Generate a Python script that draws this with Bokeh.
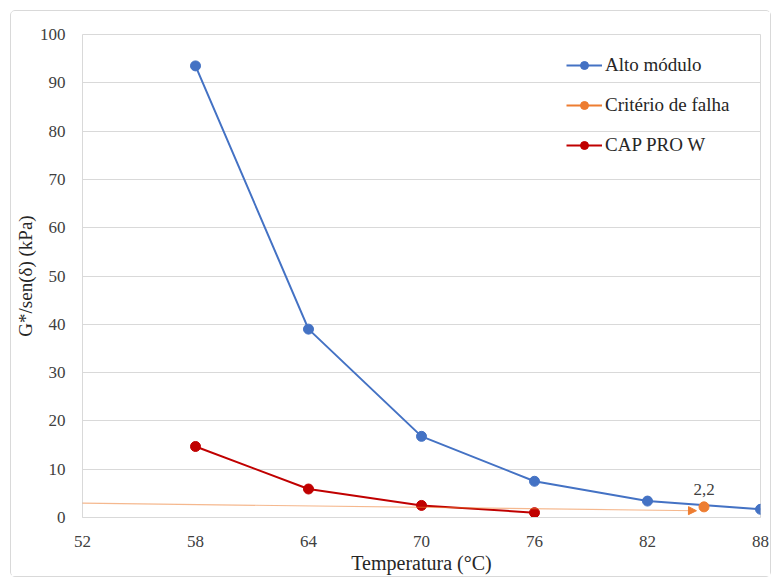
from bokeh.plotting import figure
from bokeh.layouts import column
from bokeh.models import FixedTicker, Legend, LegendItem, Arrow, NormalHead, Label
from bokeh.embed import file_html
from bokeh.resources import INLINE

temps = [58, 64, 70, 76, 82, 88]
alto_modulo = [93.5, 39.0, 16.8, 7.5, 3.4, 1.7]
cap_temps = [58, 64, 70, 76]
cap_pro_w = [14.7, 5.9, 2.5, 1.0]
criterio_x = [51.5, 84.6]
criterio_y = [3.0, 1.4]
criterio_pt_x = [85.0]
criterio_pt_y = [2.2]
criterio_label = "2,2"
x_ticks = [52, 58, 64, 70, 76, 82, 88]
y_ticks = [0, 10, 20, 30, 40, 50, 60, 70, 80, 90, 100]

BLUE = "#4472C4"
ORANGE = "#ED7D31"
RED = "#C00000"
FONT = "Liberation Serif"

p = figure(width=759, height=565, output_backend="svg", toolbar_location=None,
           x_range=(52, 88), y_range=(0, 100),
           min_border_left=71, min_border_right=10, min_border_top=23, min_border_bottom=59)

p.background_fill_color = "white"
p.border_fill_color = "white"
p.outline_line_color = "#d9d9d9"
p.xgrid.grid_line_color = None
p.ygrid.grid_line_color = "#d9d9d9"
p.ygrid.grid_line_width = 1

p.xaxis.ticker = FixedTicker(ticks=x_ticks)
p.yaxis.ticker = FixedTicker(ticks=y_ticks)
for ax in (p.xaxis[0], p.yaxis[0]):
    ax.major_tick_line_color = None
    ax.minor_tick_line_color = None
    ax.major_label_text_font = FONT
    ax.major_label_text_font_size = "17px"
    ax.major_label_text_color = "#404040"
    ax.axis_label_text_font = FONT
    ax.axis_label_text_font_size = "19px"
    ax.axis_label_text_font_style = "normal"
    ax.axis_label_text_color = "#262626"
p.xaxis.axis_label_text_font_size = "20px"
p.xaxis.axis_line_color = "#d9d9d9"
p.yaxis.axis_line_color = None
p.xaxis.axis_label = "Temperatura (°C)"
p.yaxis.axis_label = "G*/sen(δ) (kPa)"
p.xaxis.major_label_standoff = 12
p.xaxis.axis_label_standoff = 2
p.yaxis.major_label_standoff = 11
p.yaxis.axis_label_standoff = 1

# failure criterion line with arrow
p.add_layout(Arrow(x_start=criterio_x[0], y_start=criterio_y[0],
                   x_end=criterio_x[1], y_end=criterio_y[1],
                   line_color=ORANGE, line_alpha=0.55, line_width=1.2,
                   end=NormalHead(size=8, fill_color=ORANGE, line_color=ORANGE)))

l1 = p.line(temps, alto_modulo, line_color=BLUE, line_width=2)
c1 = p.scatter(temps, alto_modulo, size=10, fill_color=BLUE, line_color=BLUE)
l2 = p.line(criterio_pt_x, criterio_pt_y, line_color=ORANGE, line_width=2)
c2 = p.scatter(criterio_pt_x, criterio_pt_y, size=10, fill_color=ORANGE, line_color=ORANGE)
l3 = p.line(cap_temps, cap_pro_w, line_color=RED, line_width=2)
c3 = p.scatter(cap_temps, cap_pro_w, size=10, fill_color=RED, line_color=RED)

p.add_layout(Label(x=criterio_pt_x[0], y=criterio_pt_y[0], text=criterio_label,
                   x_offset=0, y_offset=12, text_align="center", text_baseline="bottom",
                   text_font=FONT, text_font_size="17px", text_color="#404040"))

legend = Legend(items=[LegendItem(label="Alto módulo", renderers=[l1, c1]),
                       LegendItem(label="Critério de falha", renderers=[l2, c2]),
                       LegendItem(label="CAP PRO W", renderers=[l3, c3])],
                location=(484, 361), border_line_color=None, background_fill_alpha=0,
                padding=0, margin=0, spacing=18, label_height=20, glyph_height=20,
                glyph_width=36, label_standoff=3,
                label_text_font=FONT, label_text_font_size="19px", label_text_color="#262626")
p.add_layout(legend, "center")

layout = column(p, margin=(10, 0, 0, 10),
                styles={"border": "1px solid #d9d9d9", "border-radius": "5px"})

open("out.html", "w").write(file_html(layout, INLINE))
